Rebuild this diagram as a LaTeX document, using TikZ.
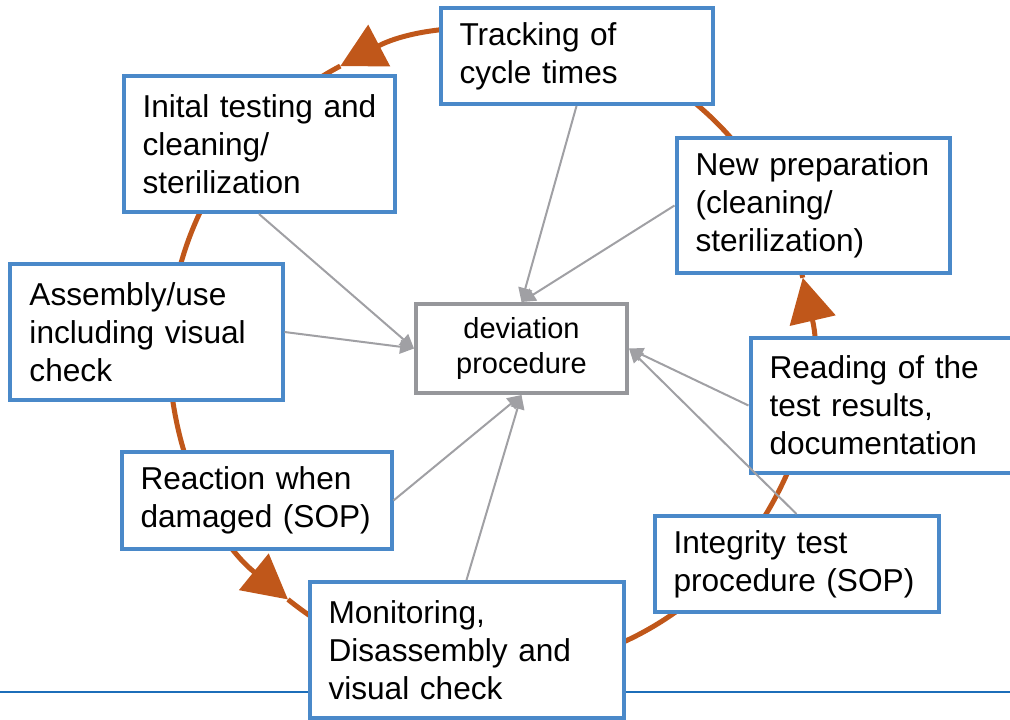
\documentclass[tikz,border=0pt]{standalone}
\usepackage{fontspec}
\setmainfont{Liberation Sans}
\usetikzlibrary{arrows.meta}

\definecolor{boxblue}{RGB}{74,137,201}
\definecolor{ringorange}{RGB}{192,87,26}
\definecolor{linkgray}{RGB}{160,160,164}
\definecolor{devgray}{RGB}{150,151,155}
\definecolor{ruleblue}{RGB}{28,110,185}

\tikzset{
  stage/.style={rectangle,draw=boxblue,line width=0.08cm,fill=white,align=left,
    inner xsep=0.38cm,font=\fontsize{18pt}{21.6pt}\selectfont},
  devbox/.style={rectangle,draw=devgray,line width=0.08cm,fill=white,align=center,
    minimum width=4.22cm,minimum height=1.78cm,font=\fontsize{16.5pt}{19.8pt}\selectfont},
  ring/.style={draw=ringorange,line width=0.1cm,-{Triangle[length=0.88cm,width=0.92cm]}},
  link/.style={draw=linkgray,line width=0.04cm,-{Triangle[length=0.28cm,width=0.28cm]}},
  rule/.style={draw=ruleblue,line width=0.045cm}
}

\begin{document}
\begin{tikzpicture}
\useasboundingbox (0,0) rectangle (20.2,14.4);

\coordinate (ruleL) at (0,0.56);
\coordinate (ruleR) at (20.2,0.56);
\draw[rule] (ruleL) -- (ruleR);

\coordinate (mid) at (9.8,7.4);
\draw[ring] (mid) ++(13:6.42) arc[start angle=13,end angle=117.8,radius=6.42];
\draw[ring] (mid) ++(117.8:6.42) arc[start angle=117.8,end angle=231,radius=6.42];
\draw[ring] (mid) ++(231:6.42) arc[start angle=231,end angle=373,radius=6.42];

\node[stage,text width=4.68cm,minimum height=1.92cm] (track) at (11.53,13.28) {Tracking of\\cycle times};
\node[stage,text width=4.66cm,minimum height=2.72cm] (init) at (5.18,11.52) {\mbox{Inital testing and}\\cleaning/\\sterilization};
\node[stage,text width=4.70cm,minimum height=2.70cm] (prep) at (16.26,10.29) {New preparation\\(cleaning/\\sterilization)};
\node[stage,text width=4.68cm,minimum height=2.72cm] (assem) at (2.93,7.76) {Assembly/use\\including visual\\check};
\node[devbox] (dev) at (10.43,7.43) {deviation\\procedure};
\node[stage,text width=4.70cm,minimum height=2.70cm] (read) at (17.74,6.29) {Reading of the\\test results,\\documentation};
\node[stage,text width=4.64cm,minimum height=1.94cm] (react) at (5.13,4.39) {Reaction when\\damaged (SOP)};
\node[stage,text width=4.92cm,minimum height=1.92cm] (integ) at (15.93,3.12) {Integrity test\\procedure (SOP)};
\node[stage,text width=5.52cm,minimum height=2.72cm] (monit) at (9.33,1.40) {Monitoring,\\Disassembly and\\visual check};

\draw[link] (track.south) -- (dev.north);
\draw[link] (prep.west) -- (dev.north);
\draw[link] (init.south) -- (dev.west);
\draw[link] (assem.east) -- (dev.west);
\draw[link] (read.west) -- (dev.east);
\draw[link] (integ.north) -- (dev.east);
\draw[link] (react.east) -- (dev.south);
\draw[link] (monit.north) -- (dev.south);
\end{tikzpicture}
\end{document}
